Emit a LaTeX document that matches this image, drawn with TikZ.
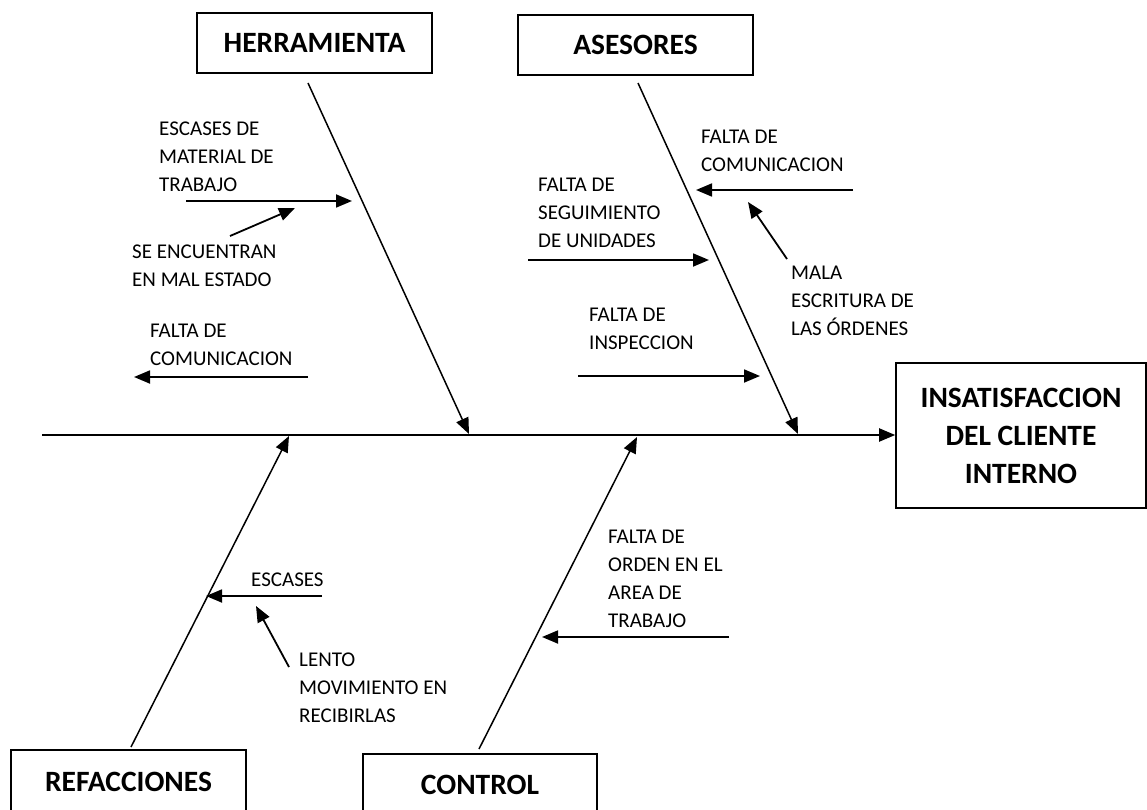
\documentclass[tikz,border=0pt]{standalone}
\usepackage{fontspec}
\setmainfont{Carlito}
\usetikzlibrary{arrows.meta}
\begin{document}
\begin{tikzpicture}[x=1pt,y=-1pt,
  causebox/.style={draw, line width=1.6pt, inner sep=0pt, align=center,
    font=\fontsize{29.5}{38}\selectfont\bfseries},
  note/.style={anchor=north west, inner sep=0pt, align=left,
    font=\fontsize{21}{28}\selectfont},
  tip/.style={-{Triangle[length=16pt,width=13pt]}},
  bone/.style={line width=1.5pt, tip},
  twig/.style={line width=1.8pt, tip},
  spine/.style={line width=2pt, tip}
]
\useasboundingbox (0,0) rectangle (1147,810);
\fill[white] (0,0) rectangle (1147,810);
\clip (0,0) rectangle (1147,810);

% category boxes
\node[causebox, minimum width=235pt, minimum height=60pt] (herr) at (314.5,43) {HERRAMIENTA};
\node[causebox, minimum width=235pt, minimum height=60pt] (ases) at (635.5,45) {ASESORES};
\node[causebox, minimum width=235pt, minimum height=64pt] (refa) at (128.5,782) {REFACCIONES};
\node[causebox, minimum width=234pt, minimum height=62pt] (ctrl) at (480,785) {CONTROL};
\node[causebox, minimum width=250pt, minimum height=145pt] (efecto) at (1021,435.5)
  {INSATISFACCION\\DEL CLIENTE\\INTERNO};

% spine and bones
\coordinate (spineL) at (42,435);
\coordinate (herrA) at (308,83);  \coordinate (herrB) at (469,434);
\coordinate (asesA) at (638,83);  \coordinate (asesB) at (798,434);
\coordinate (refaA) at (131,747); \coordinate (refaB) at (289,436);
\coordinate (ctrlA) at (479,749); \coordinate (ctrlB) at (637,437);

\draw[spine] (spineL) -- (efecto.west |- spineL);
\draw[bone] (herrA) -- (herrB);
\draw[bone] (asesA) -- (asesB);
\draw[bone] (refaA) -- (refaB);
\draw[bone] (ctrlA) -- (ctrlB);

% causes: HERRAMIENTA
\node[note] (n1) at (159,122) {ESCASES DE\\MATERIAL DE\\TRABAJO};
\node[note] (n2) at (132,245) {SE ENCUENTRAN\\EN MAL ESTADO};
\node[note] (n3) at (150,324) {FALTA DE\\COMUNICACION};
\coordinate (a1s) at (186,201); \coordinate (a1e) at (352,201);
\coordinate (a2s) at (230,236); \coordinate (a2e) at (295,208);
\coordinate (a3s) at (308,377); \coordinate (a3e) at (134,377);
\draw[twig] (a1s) -- (a1e);
\draw[twig] (a2s) -- (a2e);
\draw[twig] (a3s) -- (a3e);

% causes: ASESORES
\node[note] (n4) at (701,130) {FALTA DE\\COMUNICACION};
\node[note] (n5) at (538,178) {FALTA DE\\SEGUIMIENTO\\DE UNIDADES};
\node[note] (n6) at (791,266) {MALA\\ESCRITURA DE\\LAS ÓRDENES};
\node[note] (n7) at (589,308) {FALTA DE\\INSPECCION};
\coordinate (a4s) at (853,190); \coordinate (a4e) at (696,190);
\coordinate (a5s) at (528,260); \coordinate (a5e) at (709,260);
\coordinate (a6s) at (787,259); \coordinate (a6e) at (748,202);
\coordinate (a7s) at (578,376); \coordinate (a7e) at (760,376);
\draw[twig] (a4s) -- (a4e);
\draw[twig] (a5s) -- (a5e);
\draw[twig] (a6s) -- (a6e);
\draw[twig] (a7s) -- (a7e);

% causes: REFACCIONES
\node[note] (n8) at (251,573) {ESCASES};
\node[note] (n9) at (299,653) {LENTO\\MOVIMIENTO EN\\RECIBIRLAS};
\coordinate (a8s) at (322,596); \coordinate (a8e) at (206,596);
\coordinate (a9s) at (289,667); \coordinate (a9e) at (256,606);
\draw[twig] (a8s) -- (a8e);
\draw[twig] (a9s) -- (a9e);

% causes: CONTROL
\node[note] (n10) at (608,530) {FALTA DE\\ORDEN EN EL\\AREA DE\\TRABAJO};
\coordinate (a10s) at (729,637); \coordinate (a10e) at (542,637);
\draw[twig] (a10s) -- (a10e);
\end{tikzpicture}
\end{document}
